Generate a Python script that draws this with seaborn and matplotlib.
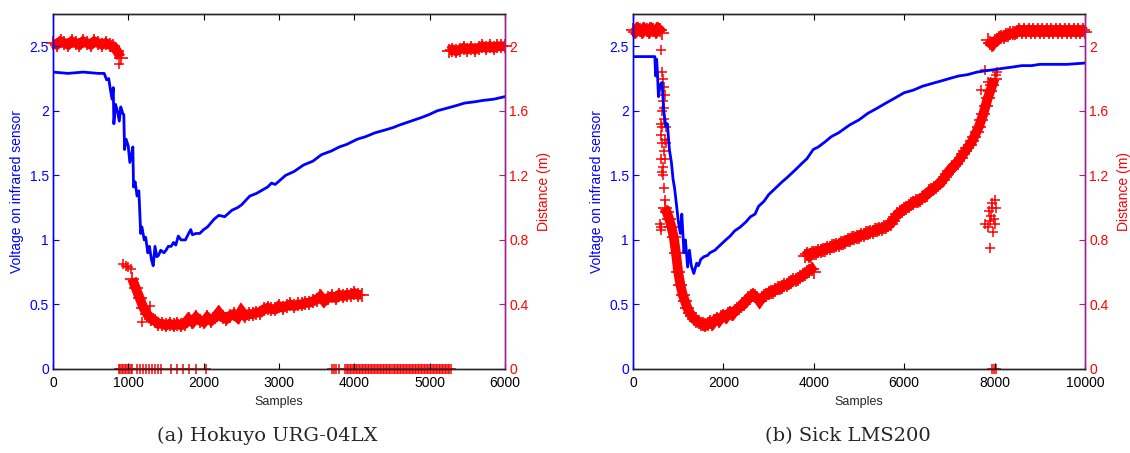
import numpy as np
import matplotlib
matplotlib.use("Agg")
import matplotlib.pyplot as plt
import seaborn as sns

# ---- data ----
# (a) Hokuyo URG-04LX : infrared voltage
volt_a_x = [0, 200, 400, 600, 680, 712, 740, 760, 784, 800, 808, 830, 855, 880, 900,
            926, 940, 950, 970, 998, 1020, 1045, 1060, 1069, 1090, 1116, 1140, 1164, 1180, 1211,
            1230, 1259, 1280, 1306, 1330, 1354, 1378, 1400, 1430, 1473, 1500, 1530, 1568, 1600, 1630,
            1663, 1700, 1758, 1800, 1829, 1850, 1900, 1948, 2000, 2050, 2138, 2200, 2280, 2375, 2450,
            2500, 2613, 2700, 2850, 2900, 2950, 3088, 3200, 3325, 3450, 3563, 3700, 3800, 3900, 4038,
            4150, 4276, 4400, 4513, 4600, 4751, 4900, 4989, 5100, 5226, 5350, 5463, 5600, 5701, 5850, 6000]
volt_a = [2.3, 2.29, 2.3, 2.29, 2.29, 2.24, 2.25, 2.17, 2.09, 2.18, 1.9, 2.05, 2.0, 1.92, 2.03,
          1.98, 1.97, 1.7, 1.78, 1.73, 1.6, 1.67, 1.72, 1.41, 1.45, 1.34, 1.38, 1.05, 1.1, 1.0,
          1.02, 0.9, 0.95, 0.85, 0.8, 0.95, 0.87, 0.88, 0.92, 0.9, 0.92, 0.95, 0.95, 0.98, 0.96,
          1.03, 1.0, 1.0, 1.05, 1.08, 1.04, 1.05, 1.05, 1.08, 1.1, 1.16, 1.19, 1.18, 1.23, 1.25,
          1.27, 1.34, 1.36, 1.41, 1.44, 1.43, 1.5, 1.53, 1.58, 1.61, 1.66, 1.69, 1.72, 1.74, 1.78,
          1.8, 1.83, 1.85, 1.87, 1.89, 1.92, 1.95, 1.97, 2.0, 2.02, 2.04, 2.06, 2.07, 2.08, 2.09, 2.11]

# (a) laser distance bands, every 50 samples
dist_a1_x = np.arange(0, 901, 50)
dist_a1 = [2.02, 2.01, 2.03, 2.02, 2.01, 2.03, 2.02, 2.01, 2.03, 2.02, 2.01, 2.03, 2.02, 2.01, 2.02,
           2.01, 2.0, 1.97, 1.93]
dist_a2_x = np.arange(1050, 4101, 50)
dist_a2 = [0.56, 0.5, 0.44, 0.38, 0.34, 0.31, 0.3, 0.28, 0.28, 0.27, 0.28, 0.27, 0.28,
           0.27, 0.28, 0.31, 0.29, 0.32, 0.3, 0.29, 0.32, 0.3, 0.32, 0.35, 0.32, 0.31, 0.33, 0.34,
           0.32, 0.36, 0.33, 0.34, 0.34, 0.35, 0.35, 0.37, 0.38, 0.37, 0.37, 0.39, 0.38, 0.39, 0.4,
           0.39, 0.4, 0.4, 0.41, 0.41, 0.42, 0.43, 0.45, 0.42, 0.44, 0.45, 0.44, 0.46, 0.45, 0.46,
           0.46, 0.47, 0.46, 0.46]
dist_a3_x = np.arange(5250, 6001, 50)
dist_a3 = [1.97, 1.98, 1.97, 1.98, 1.99, 1.98, 1.99, 1.98, 1.99, 2.0, 1.99, 2.0, 1.99, 2.0, 2.0, 2.0]
# (a) isolated readings
loose_a_x = [930, 970, 1000, 1030, 1188, 1283, 880]
loose_a = [0.65, 0.64, 0.63, 0.62, 0.29, 0.39, 1.89]
# (a) samples where the laser returned 0
zero_a_x = (list(range(870, 1070, 20)) +
            [1120, 1160, 1200, 1240, 1280, 1320, 1360, 1400, 1440, 1560, 1650, 1720, 1810, 1900, 2030] +
            list(range(3700, 3800, 30)) + list(range(3880, 5300, 20)))

# (b) Sick LMS200 : infrared voltage
volt_b_x = [0, 200, 483, 500, 523, 540, 563, 600, 644, 680, 725, 760, 805, 850, 886,
            920, 966, 1000, 1047, 1080, 1127, 1160, 1208, 1248, 1290, 1345, 1409, 1450, 1500, 1570,
            1650, 1700, 1812, 1900, 2053, 2150, 2250, 2375, 2500, 2600, 2700, 2778, 2900, 3000, 3180,
            3300, 3400, 3583, 3700, 3850, 3986, 4100, 4250, 4388, 4550, 4791, 5000, 5193, 5400, 5596,
            5800, 5998, 6200, 6401, 6600, 6804, 7000, 7206, 7400, 7609, 7800, 8011, 8200, 8414, 8600,
            8816, 9000, 9219, 9600, 10000]
volt_b = [2.42, 2.42, 2.42, 2.27, 2.4, 2.3, 2.11, 2.2, 2.22, 2.0, 1.88, 1.9, 1.7, 1.6, 1.47,
          1.4, 1.26, 1.15, 1.05, 1.2, 0.9, 1.0, 0.79, 0.92, 0.8, 0.74, 0.82, 0.8, 0.85, 0.87,
          0.88, 0.9, 0.92, 0.95, 1.0, 1.03, 1.07, 1.1, 1.14, 1.18, 1.2, 1.26, 1.3, 1.35, 1.41,
          1.45, 1.48, 1.54, 1.58, 1.63, 1.7, 1.72, 1.76, 1.8, 1.83, 1.89, 1.93, 1.98, 2.02, 2.06,
          2.1, 2.14, 2.16, 2.19, 2.21, 2.23, 2.25, 2.27, 2.28, 2.3, 2.31, 2.32, 2.33, 2.34, 2.35,
          2.35, 2.36, 2.36, 2.36, 2.37]

# (b) laser distance bands
dist_b1_x = np.arange(0, 651, 50)
dist_b1 = [2.1, 2.09, 2.11, 2.1, 2.09, 2.11, 2.1, 2.09, 2.11, 2.1, 2.09, 2.11, 2.1, 2.08]
dist_b2_x = np.arange(700, 4001, 50)
dist_b2 = [1.0, 0.97, 0.93, 0.88, 0.82, 0.72, 0.6, 0.52, 0.46, 0.42, 0.38, 0.35, 0.33, 0.31, 0.3,
           0.29, 0.28, 0.28, 0.27, 0.28, 0.29, 0.28, 0.3, 0.31, 0.3, 0.32, 0.33, 0.32, 0.34, 0.35,
           0.34, 0.36, 0.37, 0.38, 0.39, 0.4, 0.42, 0.44, 0.45, 0.46, 0.45, 0.44, 0.42, 0.44, 0.45,
           0.46, 0.47, 0.48, 0.48, 0.49, 0.5, 0.5, 0.51, 0.52, 0.52, 0.53, 0.54, 0.55, 0.55, 0.56,
           0.57, 0.58, 0.59, 0.6, 0.61, 0.62, 0.6]
dist_b3_x = np.arange(3800, 8001, 50)
dist_b3 = [0.7, 0.71, 0.7, 0.72, 0.72, 0.72, 0.73, 0.73, 0.74, 0.74, 0.75, 0.75, 0.76, 0.76, 0.77,
           0.77, 0.78, 0.78, 0.79, 0.8, 0.8, 0.81, 0.81, 0.82, 0.82, 0.83, 0.83, 0.84, 0.84, 0.85,
           0.85, 0.86, 0.86, 0.87, 0.87, 0.88, 0.88, 0.89, 0.9, 0.92, 0.94, 0.96, 0.97, 0.98, 0.99,
           1.0, 1.01, 1.02, 1.03, 1.04, 1.04, 1.05, 1.06, 1.07, 1.08, 1.1, 1.11, 1.12, 1.13, 1.14,
           1.15, 1.17, 1.19, 1.21, 1.23, 1.24, 1.26, 1.27, 1.29, 1.31, 1.33, 1.35, 1.37, 1.39, 1.41,
           1.44, 1.47, 1.5, 1.54, 1.58, 1.63, 1.68, 1.72, 1.76, 1.8]
dist_b4_x = np.arange(7850, 10001, 50)
dist_b4 = ([2.04, 2.02, 2.01, 2.03, 2.04, 2.05, 2.06, 2.06, 2.07, 2.07, 2.08, 2.08, 2.08] +
           [2.09, 2.1] * 15 + [2.09])
# (b) isolated readings
loose_b_x = [620, 650, 660, 680, 700, 640, 610, 620, 650, 630, 660, 670, 690, 700, 600, 610, 620, 720, 740, 680,
             665, 690, 675, 650, 700, 710, 640,
             7700, 7780, 7850, 8030, 8050,
             7780, 7850, 7900, 7920, 7950, 7980, 8000, 8030, 7880, 7960, 8010, 7940, 7900]
loose_b = [1.98, 1.84, 1.8, 1.75, 1.7, 1.6, 1.52, 1.45, 1.4, 1.3, 1.25, 1.2, 1.12, 1.05, 0.9, 0.88, 0.86, 1.5, 1.4, 1.55,
           1.66, 1.62, 1.35, 1.5, 1.42, 1.3, 1.22,
           1.73, 1.85, 1.78, 1.82, 1.84,
           0.9, 0.88, 0.75, 0.95, 1.0, 0.93, 1.05, 1.0, 0.98, 0.85, 0.9, 1.03, 0.92]
zero_b_x = [7950, 7980, 8020]

# ---- figure ----
sns.set_style("ticks")
plt.rcParams["font.family"] = ["Liberation Sans", "DejaVu Sans"]

fig = plt.figure(figsize=(11.3, 4.53), dpi=100)
blue = "#0000ff"
red = "#ff0000"
purple = "#a0208c"

panels = [
    dict(rect=[53 / 1130, 84 / 453, 452 / 1130, 355 / 453], xmax=6000, xticks=np.arange(0, 6001, 1000),
         volt=(volt_a_x, volt_a),
         bands=[(dist_a1_x, dist_a1), (dist_a2_x, dist_a2), (dist_a3_x, dist_a3)],
         loose=[(loose_a_x, loose_a), (zero_a_x, [0] * len(zero_a_x))],
         caption="(a) Hokuyo URG-04LX"),
    dict(rect=[633 / 1130, 84 / 453, 452 / 1130, 355 / 453], xmax=10000, xticks=np.arange(0, 10001, 2000),
         volt=(volt_b_x, volt_b),
         bands=[(dist_b1_x, dist_b1), (dist_b2_x, dist_b2), (dist_b3_x, dist_b3), (dist_b4_x, dist_b4)],
         loose=[(loose_b_x, loose_b), (zero_b_x, [0] * len(zero_b_x))],
         caption="(b) Sick LMS200"),
]

for p in panels:
    ax = fig.add_axes(p["rect"])
    ax2 = ax.twinx()
    ax.set_zorder(ax2.get_zorder() + 1)
    ax.patch.set_visible(False)

    sns.lineplot(x=p["volt"][0], y=p["volt"][1], ax=ax, color=blue, lw=2.0, sort=False, estimator=None)
    # dense '+' readings: a thick band with the markers on top
    for xs, ys in p["bands"]:
        sns.lineplot(x=xs, y=ys, ax=ax2, color=red, lw=7, sort=False, estimator=None, clip_on=False,
                     solid_capstyle="butt", solid_joinstyle="miter")
        sns.scatterplot(x=xs, y=ys, ax=ax2, marker="+", s=95, color=red, linewidth=1.2, clip_on=False)
    for xs, ys in p["loose"]:
        sns.scatterplot(x=xs, y=ys, ax=ax2, marker="+", s=50, color=red, linewidth=1.1, clip_on=False)

    ax.set_xlim(0, p["xmax"])
    ax.set_ylim(0, 2.75)
    ax2.set_ylim(0, 2.2)
    ax.set_xticks(p["xticks"])
    ax.set_yticks([0, 0.5, 1, 1.5, 2, 2.5])
    ax.set_yticklabels(["0", "0.5", "1", "1.5", "2", "2.5"])
    ax2.set_yticks([0, 0.4, 0.8, 1.2, 1.6, 2.0])
    ax2.set_yticklabels(["0", "0.4", "0.8", "1.2", "1.6", "2"])

    ax.tick_params(axis="x", direction="in", top=True, length=4, labelsize=10, colors="black", pad=5)
    ax.tick_params(axis="y", direction="in", length=4, labelsize=10, colors=blue, pad=3)
    ax2.tick_params(axis="y", direction="in", length=4, labelsize=10, colors=red, pad=3)
    ax2.tick_params(axis="y", which="major", color=purple)

    for a in (ax, ax2):
        for s in a.spines.values():
            s.set_visible(True)
            s.set_linewidth(1.0)
    ax.spines["left"].set_color(blue)
    ax2.spines["left"].set_color(blue)
    ax2.spines["right"].set_color(purple)
    ax.spines["right"].set_color(purple)

    ax.set_xlabel("Samples", fontsize=9, labelpad=4)
    ax.set_ylabel("Voltage on infrared sensor", fontsize=10, color=blue, labelpad=4)
    ax2.set_ylabel("Distance (m)", fontsize=10, color=red, labelpad=6)

    x0, _, w, _ = p["rect"]
    fig.text(x0 + w / 2 - 0.01, 0.038, p["caption"], ha="center", va="center",
             fontsize=14, family=["DejaVu Serif"])

fig.savefig("out.png", dpi=100)
